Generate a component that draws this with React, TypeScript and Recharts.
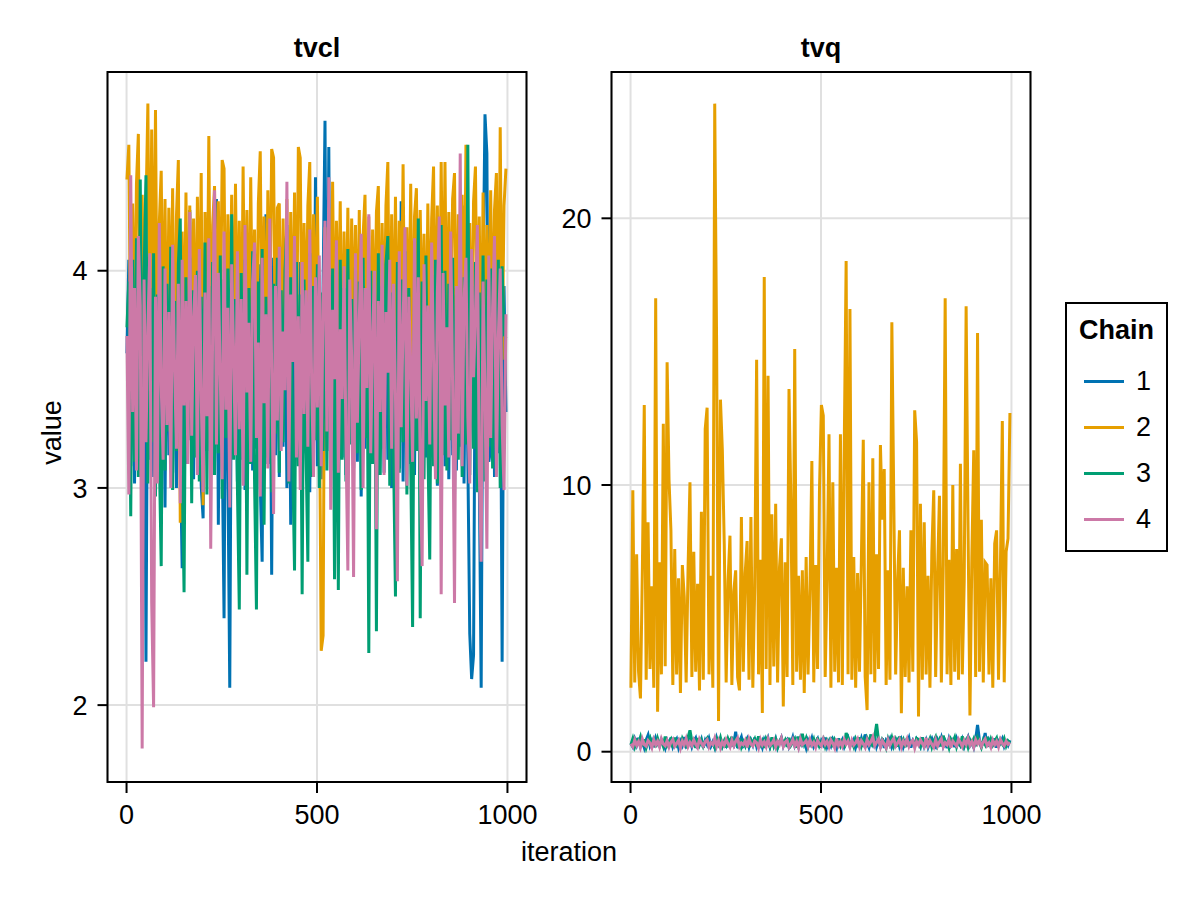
import React from 'react';
import { LineChart, Line, XAxis, YAxis, CartesianGrid, ReferenceArea } from 'recharts';

const chainNames = ['1', '2', '3', '4'];
const chainColors = ['#0072B2', '#E69F00', '#009E73', '#CC79A7'];
const chainKeys = ['c1', 'c2', 'c3', 'c4'];

// sampled iterations (every 5th draw)
const iterations = Array.from({ length: 200 }, (_, i) => 1 + i * 5);

const xTicks = [0, 500, 1000];
const tvclTicks = [2, 3, 4];
const tvqTicks = [0, 10, 20];

// tvcl, chains 1-4
const tvcl1 = [
  3.62, 4.05, 3.1, 3.96, 3.02, 4.12, 3.18, 3.9, 2.97, 4.03, 2.2, 3.94, 3.13, 4.08, 3.05, 3.87, 3.21, 4.0, 2.94, 3.92,
  2.91, 4.06, 3.15, 3.98, 3.07, 4.1, 3.0, 3.89, 3.19, 2.63, 4.02, 3.11, 3.95, 4.28, 3.36, 3.04, 3.99, 3.14, 4.07, 3.01,
  2.86, 3.93, 3.17, 4.04, 3.06, 3.91, 3.12, 4.33, 2.83, 3.97, 3.2, 2.4, 4.01, 3.09, 2.08, 3.94, 3.16, 4.05, 3.03, 3.88,
  3.13, 4.0, 2.99, 3.95, 3.22, 4.09, 3.08, 3.9, 3.18, 4.03, 3.02, 2.66, 3.96, 4.26, 3.11, 3.92, 2.6, 4.06, 3.15, 3.99,
  3.05, 3.93, 3.19, 4.02, 3.0, 3.97, 2.83, 4.08, 3.12, 3.89, 3.24, 4.04, 3.07, 3.95, 3.16, 4.01, 2.98, 3.91, 3.21, 4.43,
  3.1, 3.98, 3.04, 3.94, 4.69, 3.17, 4.57, 3.08, 3.92, 3.2, 4.05, 3.01, 3.96, 3.14, 4.0, 3.06, 3.9, 3.23, 4.07, 3.09,
  3.97, 3.12, 4.03, 2.96, 3.93, 3.18, 4.09, 3.05, 3.98, 3.15, 3.91, 3.02, 4.04, 3.2, 3.95, 3.07, 4.01, 3.13, 3.89, 3.0,
  4.06, 3.16, 3.94, 3.09, 4.32, 3.03, 3.97, 3.19, 4.02, 3.11, 3.9, 3.06, 4.08, 3.22, 3.96, 2.99, 4.0, 3.14, 3.93, 3.08,
  4.05, 3.17, 3.91, 3.01, 3.99, 3.21, 4.03, 3.1, 3.95, 3.04, 4.07, 3.15, 3.92, 3.08, 3.98, 3.19, 4.3, 3.02, 3.94, 3.13,
  2.33, 2.12, 2.23, 3.97, 4.11, 3.06, 2.08, 3.95, 4.72, 4.54, 3.12, 3.18, 4.02, 3.05, 4.18, 3.16, 3.96, 2.2, 3.93, 3.35,
];
const tvcl2 = [
  4.42, 4.58, 3.55, 4.31, 3.62, 4.4, 4.63, 3.48, 4.35, 3.7, 4.28, 4.77, 3.58, 4.65, 3.66, 4.74, 3.5, 4.22, 4.46, 3.61,
  4.33, 3.45, 4.29, 3.72, 4.38, 3.4, 4.25, 4.51, 2.84, 4.18, 3.56, 4.36, 3.47, 4.3, 3.63, 4.24, 3.52, 4.34, 3.68, 4.45,
  2.92, 4.27, 3.59, 4.62, 3.44, 4.21, 4.39, 3.57, 4.32, 3.65, 4.51, 4.47, 3.49, 4.26, 3.71, 4.35, 3.54, 4.4, 3.62, 4.23,
  3.46, 4.48, 3.6, 4.28, 3.51, 4.43, 3.67, 4.19, 3.42, 4.31, 4.55, 3.58, 4.25, 3.48, 4.37, 3.69, 4.56, 4.52, 3.53, 4.29,
  4.31, 3.47, 4.24, 3.64, 4.33, 3.41, 4.27, 3.59, 4.36, 3.5, 4.57, 4.52, 3.55, 4.22, 3.68, 4.3, 4.5, 3.45, 4.26, 3.61,
  4.34, 3.52, 2.25, 2.32, 4.2, 3.63, 4.29, 3.46, 4.41, 3.57, 4.23, 3.7, 4.32, 3.43, 4.18, 3.6, 4.29, 3.49, 4.24, 3.66,
  4.21, 3.54, 4.28, 3.39, 4.16, 4.35, 3.58, 4.25, 3.47, 4.19, 3.62, 4.27, 4.39, 3.51, 4.22, 3.66, 4.3, 4.5, 3.44, 4.26,
  3.57, 4.34, 3.48, 4.23, 3.65, 4.49, 3.52, 4.2, 3.6, 4.4, 3.43, 4.25, 4.38, 3.56, 4.28, 3.67, 4.17, 3.5, 4.31, 3.62,
  4.24, 4.48, 3.53, 4.3, 3.46, 4.5, 3.64, 4.5, 3.55, 4.27, 3.68, 4.33, 4.45, 3.49, 4.26, 3.61, 4.35, 3.54, 4.58, 3.66,
  4.22, 3.5, 4.32, 4.48, 3.58, 4.25, 3.45, 4.36, 3.63, 4.21, 3.52, 4.37, 3.6, 4.28, 4.45, 3.47, 4.66, 3.59, 4.3, 4.47,
];
const tvcl3 = [
  3.74, 3.95, 2.87, 4.05, 3.12, 4.15, 3.05, 4.42, 3.18, 3.98, 4.44, 3.02, 3.92, 3.21, 4.08, 2.96, 3.89, 3.15, 2.64, 4.02,
  3.08, 3.94, 3.26, 4.11, 2.99, 3.86, 3.17, 4.03, 4.24, 3.1, 2.52, 3.97, 3.22, 4.06, 2.93, 3.91, 3.14, 4.0, 3.03, 3.88,
  3.19, 4.13, 2.97, 3.93, 3.24, 4.04, 3.06, 3.9, 3.16, 4.07, 2.95, 3.96, 3.23, 4.01, 3.09, 4.26, 3.13, 3.87, 3.01, 2.44,
  3.99, 3.2, 4.05, 2.6, 3.92, 3.11, 4.09, 3.04, 2.44, 3.95, 3.18, 4.1, 2.83, 3.88, 3.14, 4.02, 2.98, 3.94, 3.25, 4.06,
  3.07, 3.91, 3.21, 4.0, 4.21, 3.02, 3.97, 3.15, 2.62, 4.04, 3.1, 3.89, 2.51, 3.96, 3.19, 2.66, 4.08, 3.05, 3.93, 3.22,
  4.03, 3.0, 3.9, 3.17, 4.07, 3.08, 3.98, 3.24, 4.01, 2.58, 3.94, 2.53, 4.05, 3.13, 3.92, 3.03, 4.1, 3.2, 3.87, 3.09,
  4.02, 3.16, 3.95, 2.99, 4.06, 3.23, 3.91, 2.24, 4.0, 3.11, 3.97, 2.34, 4.08, 3.06, 3.93, 3.18, 4.03, 4.16, 3.01, 3.9,
  3.14, 2.5, 4.04, 3.07, 3.96, 3.21, 4.09, 2.97, 3.92, 3.12, 2.36, 4.01, 3.17, 4.24, 2.4, 3.95, 3.04, 4.07, 3.19, 2.67,
  3.98, 3.1, 4.05, 3.02, 3.91, 4.21, 3.15, 4.0, 3.08, 3.94, 3.22, 4.06, 2.96, 3.89, 3.13, 4.02, 3.05, 3.97, 3.2, 4.58,
  3.06, 3.93, 3.18, 4.04, 2.98, 3.9, 3.14, 4.07, 3.03, 3.96, 3.19, 4.01, 3.09, 3.92, 3.23, 4.05, 3.0, 4.02, 3.71, 3.69,
];
const tvcl4 = [
  3.7, 2.97, 4.44, 3.35, 3.92, 3.08, 4.16, 3.84, 1.8, 3.96, 3.21, 3.74, 4.08, 2.47, 1.99, 3.88, 3.02, 4.22, 3.47, 3.13,
  4.01, 3.29, 3.81, 3.0, 4.12, 3.56, 3.18, 3.94, 2.93, 4.05, 3.38, 3.86, 3.11, 4.27, 3.24, 3.78, 3.98, 3.06, 4.1, 3.42,
  2.98, 3.9, 3.33, 4.15, 2.72, 3.71, 4.37, 3.2, 3.99, 3.52, 3.04, 4.18, 3.36, 3.83, 2.91, 4.03, 3.63, 3.15, 4.09, 3.27,
  3.87, 3.01, 4.21, 3.44, 3.76, 3.12, 3.95, 4.13, 3.23, 3.67, 2.96, 4.06, 3.39, 3.8, 3.09, 4.24, 3.55, 2.88, 3.93, 3.31,
  4.11, 3.17, 3.72, 3.45, 4.41, 3.03, 3.89, 3.58, 4.16, 3.14, 3.79, 2.99, 4.04, 3.34, 3.91, 3.19, 4.19, 3.48, 3.05, 3.97,
  3.37, 4.07, 3.1, 3.85, 4.23, 3.26, 4.43, 2.9, 3.82, 3.5, 4.14, 3.07, 3.73, 3.41, 4.02, 3.22, 2.62, 3.96, 3.6, 2.59,
  4.08, 3.3, 3.77, 4.17, 3.0, 3.92, 3.46, 4.26, 3.16, 3.7, 4.0, 2.81, 3.86, 3.35, 4.12, 3.06, 3.81, 3.53, 4.05, 3.18,
  3.94, 3.43, 2.57, 4.09, 3.28, 3.75, 4.2, 3.01, 3.88, 3.57, 3.12, 4.15, 3.32, 3.97, 3.08, 2.64, 4.03, 3.4, 3.84, 3.2,
  4.13, 3.59, 3.04, 3.9, 4.25, 2.51, 3.99, 3.38, 3.74, 3.14, 4.18, 3.47, 2.47, 3.93, 3.25, 4.54, 3.1, 3.87, 4.06, 3.33,
  3.02, 4.1, 3.51, 3.79, 4.21, 3.09, 2.66, 3.95, 3.44, 2.72, 4.07, 3.23, 3.83, 4.16, 3.05, 3.69, 4.01, 3.29, 2.99, 3.8,
];

// tvq, chains 1-4 (chain 2 wanders far above the others)
const tvq1 = [
  0.31, 0.18, 0.47, 0.25, 0.52, 0.2, 0.38, 0.15, 0.44, 0.62, 0.23, 0.41, 0.17, 0.5, 0.29, 0.21, 0.46, 0.34, 0.14, 0.43,
  0.27, 0.53, 0.19, 0.36, 0.48, 0.16, 0.4, 0.24, 0.55, 0.22, 0.33, 0.45, 0.18, 0.39, 0.51, 0.2, 0.28, 0.47, 0.15, 0.42,
  0.26, 0.49, 0.21, 0.37, 0.16, 0.52, 0.3, 0.44, 0.19, 0.35, 0.23, 0.5, 0.17, 0.41, 0.27, 0.75, 0.14, 0.38, 0.55, 0.22,
  0.32, 0.48, 0.18, 0.43, 0.25, 0.53, 0.2, 0.42, 0.36, 0.16, 0.45, 0.28, 0.5, 0.19, 0.4, 0.24, 0.47, 0.15, 0.34, 0.52,
  0.21, 0.39, 0.46, 0.17, 0.31, 0.54, 0.23, 0.42, 0.18, 0.49, 0.26, 0.37, 0.14, 0.44, 0.29, 0.51, 0.2, 0.35, 0.48, 0.16,
  0.41, 0.27, 0.53, 0.19, 0.38, 0.22, 0.47, 0.33, 0.15, 0.5, 0.25, 0.43, 0.18, 0.36, 0.52, 0.21, 0.3, 0.45, 0.17, 0.4,
  0.24, 0.49, 0.2, 0.65, 0.34, 0.16, 0.46, 0.28, 0.55, 0.19, 0.39, 0.23, 0.5, 0.14, 0.42, 0.31, 0.48, 0.18, 0.36, 0.26,
  0.52, 0.21, 0.44, 0.17, 0.37, 0.29, 0.51, 0.15, 0.4, 0.24, 0.47, 0.33, 0.19, 0.54, 0.22, 0.43, 0.16, 0.35, 0.49, 0.27,
  0.18, 0.45, 0.3, 0.53, 0.2, 0.38, 0.14, 0.48, 0.25, 0.41, 0.17, 0.5, 0.32, 0.22, 0.46, 0.19, 0.39, 0.55, 0.23, 0.36,
  0.16, 0.47, 1.0, 0.42, 0.21, 0.35, 0.7, 0.18, 0.44, 0.28, 0.26, 0.5, 0.15, 0.4, 0.31, 0.48, 0.2, 0.37, 0.24, 0.43,
];
const tvq2 = [
  2.4, 9.8, 2.6, 7.4, 3.0, 2.0, 6.8, 13.0, 2.7, 8.6, 3.1, 6.2, 2.4, 17.0, 1.5, 7.1, 2.9, 12.3, 3.2, 14.6,
  10.2, 8.3, 2.5, 7.6, 2.9, 6.5, 2.2, 7.0, 5.8, 2.6, 6.9, 10.1, 2.8, 7.5, 3.0, 6.3, 2.3, 9.0, 2.7, 12.1,
  12.9, 2.9, 6.6, 2.4, 24.3, 15.2, 1.15, 13.2, 11.3, 7.8, 2.6, 6.4, 8.1, 2.5, 6.0, 6.8, 2.8, 2.3, 8.8, 3.0,
  6.7, 7.9, 2.7, 8.8, 2.4, 6.2, 14.7, 2.9, 7.2, 1.45, 17.8, 3.1, 14.1, 2.5, 8.9, 3.2, 9.3, 2.6, 6.9, 8.0,
  1.7, 7.1, 2.8, 13.6, 9.3, 2.5, 15.1, 3.0, 6.6, 2.7, 6.8, 2.2, 7.3, 2.9, 6.1, 10.9, 2.6, 7.0, 3.1, 9.8,
  13.0, 12.6, 2.8, 6.5, 11.9, 2.4, 10.1, 3.0, 6.9, 2.6, 11.9, 2.5, 11.4, 18.4, 2.9, 16.6, 2.7, 7.3, 2.4, 6.7,
  3.0, 7.2, 11.7, 2.8, 1.56, 10.1, 2.9, 11.0, 2.6, 7.4, 3.1, 11.5, 8.7, 10.6, 2.5, 6.8, 2.7, 16.1, 9.5, 2.9,
  6.4, 8.3, 1.44, 6.9, 2.8, 6.2, 2.6, 8.3, 3.0, 12.8, 11.6, 1.32, 9.3, 2.7, 8.6, 2.9, 6.6, 2.4, 7.5, 9.8,
  2.8, 6.7, 9.6, 2.6, 7.0, 17.0, 2.9, 7.2, 2.5, 10.0, 3.0, 7.6, 2.7, 10.8, 2.9, 6.4, 16.7, 8.5, 1.36, 7.3,
  11.3, 2.8, 15.7, 3.0, 8.7, 2.6, 7.1, 7.0, 2.9, 6.5, 2.4, 7.8, 8.3, 2.7, 6.9, 12.4, 2.6, 7.5, 8.0, 12.7,
];
const tvq3 = [
  0.26, 0.49, 0.19, 0.42, 0.33, 0.55, 0.21, 0.46, 0.15, 0.38, 0.52, 0.24, 0.44, 0.17, 0.5, 0.29, 0.4, 0.2, 0.57, 0.23,
  0.36, 0.47, 0.16, 0.53, 0.27, 0.41, 0.18, 0.48, 0.31, 0.22, 0.54, 0.8, 0.39, 0.45, 0.14, 0.51, 0.25, 0.43, 0.2, 0.37,
  0.49, 0.23, 0.34, 0.34, 0.17, 0.46, 0.28, 0.52, 0.21, 0.4, 0.15, 0.48, 0.3, 0.56, 0.19, 0.42, 0.25, 0.5, 0.18, 0.38,
  0.22, 0.53, 0.16, 0.44, 0.32, 0.47, 0.2, 0.58, 0.26, 0.41, 0.14, 0.49, 0.35, 0.19, 0.54, 0.23, 0.45, 0.17, 0.39, 0.51,
  0.28, 0.43, 0.18, 0.52, 0.24, 0.36, 0.48, 0.15, 0.57, 0.21, 0.67, 0.3, 0.5, 0.19, 0.4, 0.26, 0.46, 0.16, 0.53, 0.22,
  0.37, 0.49, 0.2, 0.42, 0.27, 0.55, 0.17, 0.45, 0.31, 0.41, 0.23, 0.48, 0.14, 0.7, 0.52, 0.25, 0.38, 0.19, 0.47, 0.29,
  0.54, 0.21, 0.43, 0.16, 0.5, 0.33, 0.65, 0.18, 0.56, 1.04, 0.41, 0.2, 0.46, 0.36, 0.15, 0.48, 0.27, 0.52, 0.22, 0.44,
  0.19, 0.57, 0.3, 0.45, 0.17, 0.51, 0.26, 0.38, 0.39, 0.21, 0.5, 0.46, 0.23, 0.53, 0.16, 0.42, 0.32, 0.49, 0.18, 0.4,
  0.55, 0.24, 0.44, 0.2, 0.6, 0.28, 0.37, 0.15, 0.47, 0.34, 0.53, 0.19, 0.41, 0.26, 0.58, 0.22, 0.41, 0.17, 0.45, 0.31,
  0.48, 0.21, 0.52, 0.35, 0.16, 0.43, 0.27, 0.56, 0.2, 0.46, 0.25, 0.39, 0.51, 0.18, 0.44, 0.3, 0.49, 0.22, 0.41, 0.33,
];
const tvq4 = [
  0.3, 0.19, 0.44, 0.24, 0.38, 0.16, 0.47, 0.27, 0.21, 0.42, 0.33, 0.15, 0.45, 0.25, 0.39, 0.18, 0.48, 0.29, 0.22, 0.41,
  0.17, 0.36, 0.46, 0.2, 0.31, 0.43, 0.14, 0.4, 0.26, 0.49, 0.19, 0.35, 0.23, 0.44, 0.28, 0.16, 0.47, 0.32, 0.21, 0.38,
  0.45, 0.18, 0.34, 0.27, 0.5, 0.2, 0.41, 0.15, 0.37, 0.24, 0.46, 0.3, 0.17, 0.43, 0.22, 0.39, 0.51, 0.19, 0.33, 0.26,
  0.42, 0.16, 0.48, 0.28, 0.21, 0.4, 0.34, 0.14, 0.45, 0.25, 0.37, 0.19, 0.47, 0.23, 0.31, 0.44, 0.18, 0.39, 0.27, 0.5,
  0.2, 0.36, 0.43, 0.17, 0.29, 0.46, 0.22, 0.38, 0.15, 0.48, 0.26, 0.33, 0.41, 0.19, 0.45, 0.24, 0.35, 0.16, 0.42, 0.3,
  0.21, 0.47, 0.27, 0.39, 0.18, 0.44, 0.32, 0.14, 0.49, 0.23, 0.37, 0.2, 0.46, 0.28, 0.4, 0.17, 0.43, 0.25, 0.34, 0.48,
  0.19, 0.41, 0.3, 0.16, 0.45, 0.26, 0.38, 0.55, 0.22, 0.35, 0.47, 0.18, 0.42, 0.29, 0.15, 0.44, 0.24, 0.39, 0.5, 0.21,
  0.33, 0.46, 0.17, 0.4, 0.27, 0.48, 0.2, 0.36, 0.43, 0.14, 0.38, 0.25, 0.45, 0.31, 0.19, 0.52, 0.23, 0.41, 0.28, 0.16,
  0.44, 0.22, 0.37, 0.49, 0.18, 0.34, 0.26, 0.46, 0.15, 0.4, 0.3, 0.21, 0.47, 0.35, 0.19, 0.42, 0.27, 0.5, 0.24, 0.38,
  0.17, 0.45, 0.29, 0.41, 0.2, 0.36, 0.48, 0.23, 0.33, 0.16, 0.43, 0.26, 0.39, 0.18, 0.46, 0.31, 0.22, 0.4, 0.28, 0.35,
];

const tvclData = iterations.map((iter, i) => ({ iter, c1: tvcl1[i], c2: tvcl2[i], c3: tvcl3[i], c4: tvcl4[i] }));
const tvqData = iterations.map((iter, i) => ({ iter, c1: tvq1[i], c2: tvq2[i], c3: tvq3[i], c4: tvq4[i] }));

const font = '"Liberation Sans", Arial, Helvetica, sans-serif';
const tickStyle = { fill: '#000', fontSize: 27, fontFamily: font };
const tickLineStyle = { stroke: '#000', strokeWidth: 2 };
const xDomain: [number, number] = [-50, 1050];
const tvclDomain: [number, number] = [1.646, 4.915];
const tvqDomain: [number, number] = [-1.136, 25.486];

const labelText: React.CSSProperties = {
  position: 'absolute',
  fontFamily: font,
  fontSize: 27,
  lineHeight: '27px',
  color: '#000',
  textAlign: 'center',
  whiteSpace: 'nowrap',
};

function Legend() {
  return (
    <div
      style={{
        position: 'absolute',
        left: 1065,
        top: 302,
        width: 103,
        height: 250,
        border: '2px solid #000',
        boxSizing: 'border-box',
        background: '#fff',
      }}
    >
      <div style={{ ...labelText, left: 0, width: 99, top: 13, fontWeight: 'bold' }}>Chain</div>
      {chainNames.map((name, i) => (
        <React.Fragment key={name}>
          <div
            style={{
              position: 'absolute',
              left: 17,
              top: 77 + i * 46 - 1.5,
              width: 40,
              height: 3,
              background: chainColors[i],
            }}
          />
          <div style={{ ...labelText, left: 69, top: 77 + i * 46 - 13.2, textAlign: 'left' }}>{name}</div>
        </React.Fragment>
      ))}
    </div>
  );
}

type PanelProps = {
  data: Record<string, number>[];
  width: number;
  margin: { top: number; right: number; bottom: number; left: number };
  yDomain: [number, number];
  yTicks: number[];
};

function TracePanel({ data, width, margin, yDomain, yTicks }: PanelProps) {
  return (
    <LineChart width={width} height={900} data={data} margin={margin}>
      <CartesianGrid stroke="#e0e0e0" strokeWidth={2} />
      <XAxis
        dataKey="iter"
        type="number"
        domain={xDomain}
        ticks={xTicks}
        allowDataOverflow
        interval={0}
        height={60}
        axisLine={false}
        tickLine={tickLineStyle}
        tickSize={11}
        tickMargin={12}
        tick={tickStyle}
      />
      <YAxis
        type="number"
        domain={yDomain}
        ticks={yTicks}
        allowDataOverflow
        interval={0}
        width={60}
        axisLine={false}
        tickLine={tickLineStyle}
        tickSize={10}
        tickMargin={10}
        tick={tickStyle}
      />
      {chainKeys.map((key, i) => (
        <Line
          key={key}
          dataKey={key}
          type="linear"
          stroke={chainColors[i]}
          strokeWidth={3}
          dot={false}
          activeDot={false}
          isAnimationActive={false}
        />
      ))}
      <ReferenceArea x1={xDomain[0]} x2={xDomain[1]} y1={yDomain[0]} y2={yDomain[1]} fill="none" stroke="#000" strokeWidth={2} />
    </LineChart>
  );
}

export default function App() {
  return (
    <div style={{ position: 'absolute', left: 0, top: 0, width: 1200, height: 900, background: '#fff' }}>
      <div style={{ position: 'absolute', left: 0, top: 0 }}>
        <TracePanel
          data={tvclData}
          width={560}
          margin={{ top: 72, right: 33.5, bottom: 58, left: 47.5 }}
          yDomain={tvclDomain}
          yTicks={tvclTicks}
        />
      </div>
      <div style={{ position: 'absolute', left: 540, top: 0 }}>
        <TracePanel
          data={tvqData}
          width={520}
          margin={{ top: 72, right: 29.5, bottom: 58, left: 11.5 }}
          yDomain={tvqDomain}
          yTicks={tvqTicks}
        />
      </div>

      <div style={{ ...labelText, left: 107.5, width: 419, top: 35.4, fontWeight: 'bold' }}>tvcl</div>
      <div style={{ ...labelText, left: 611.5, width: 419, top: 35.4, fontWeight: 'bold' }}>tvq</div>
      <div style={{ ...labelText, left: 369, width: 400, top: 839.1 }}>iteration</div>
      <div
        style={{
          ...labelText,
          left: 52.3 - 100,
          top: 432.5 - 13.5,
          width: 200,
          height: 27,
          transform: 'rotate(-90deg)',
        }}
      >
        value
      </div>
      <Legend />
    </div>
  );
}
